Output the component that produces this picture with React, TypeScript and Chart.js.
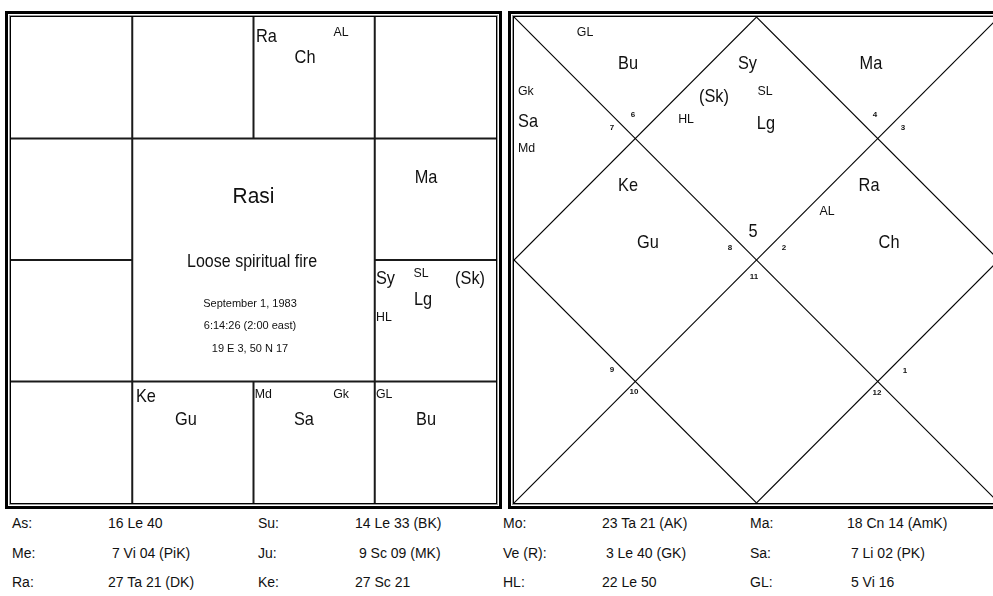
import React, { useEffect, useRef } from "react";
import { Chart, registerables } from "chart.js";

Chart.register(...registerables);

// ---------- DATA ----------
// South-Indian (Rasi) grid segments, chart units 0..4 (y grows downward)
const rasiGridSegments: number[][] = [
  [1, 0, 1, 4],
  [3, 0, 3, 4],
  [0, 1, 4, 1],
  [0, 3, 4, 3],
  [2, 0, 2, 1],
  [2, 3, 2, 4],
  [0, 2, 1, 2],
  [3, 2, 4, 2],
];

// North-Indian diamond chart segments
const bhavaGridSegments: number[][] = [
  [0, 0, 4, 4],
  [4, 0, 0, 4],
  [2, 0, 4, 2],
  [4, 2, 2, 4],
  [2, 4, 0, 2],
  [0, 2, 2, 0],
];

// [text, x, y, style, align]
type Lbl = [string, number, number, string, string];

const rasiLabels: Lbl[] = [
  ["Ra", 2.02, 0.165, "planet", "left"],
  ["AL", 2.722, 0.123, "small", "center"],
  ["Ch", 2.425, 0.337, "planet", "center"],
  ["Ma", 3.423, 1.325, "planet", "center"],
  ["Rasi", 2.0, 1.48, "title", "center"],
  ["Loose spiritual fire", 1.988, 2.016, "subtitle", "center"],
  ["September 1, 1983", 1.971, 2.362, "info", "center"],
  ["6:14:26 (2:00 east)", 1.971, 2.543, "info", "center"],
  ["19 E 3, 50 N 17", 1.971, 2.733, "info", "center"],
  ["Sy", 3.01, 2.156, "planet", "left"],
  ["SL", 3.381, 2.107, "small", "center"],
  ["(Sk)", 3.786, 2.156, "planet", "center"],
  ["Lg", 3.398, 2.329, "planet", "center"],
  ["HL", 3.01, 2.469, "small", "left"],
  ["Ke", 1.03, 3.128, "planet", "left"],
  ["Gu", 1.443, 3.317, "planet", "center"],
  ["Md", 2.01, 3.103, "small", "left"],
  ["Gk", 2.722, 3.103, "small", "center"],
  ["Sa", 2.416, 3.317, "planet", "center"],
  ["GL", 3.01, 3.103, "small", "left"],
  ["Bu", 3.423, 3.317, "planet", "center"],
];

const bhavaLabels: Lbl[] = [
  ["GL", 0.586, 0.123, "small", "center"],
  ["Bu", 0.94, 0.387, "planet", "center"],
  ["Gk", 0.033, 0.609, "small", "left"],
  ["Sa", 0.033, 0.864, "planet", "left"],
  ["Md", 0.033, 1.078, "small", "left"],
  ["(Sk)", 1.649, 0.658, "planet", "center"],
  ["HL", 1.419, 0.84, "small", "center"],
  ["Sy", 1.847, 0.387, "planet", "left"],
  ["SL", 2.07, 0.609, "small", "center"],
  ["Lg", 2.078, 0.881, "planet", "center"],
  ["Ma", 2.944, 0.387, "planet", "center"],
  ["Ke", 0.94, 1.391, "planet", "center"],
  ["Gu", 1.105, 1.86, "planet", "center"],
  ["Ra", 2.928, 1.391, "planet", "center"],
  ["AL", 2.581, 1.597, "small", "center"],
  ["Ch", 3.093, 1.86, "planet", "center"],
  ["5", 1.971, 1.77, "planet", "center"],
  ["6", 0.981, 0.807, "tiny", "center"],
  ["7", 0.808, 0.914, "tiny", "center"],
  ["8", 1.781, 1.901, "tiny", "center"],
  ["9", 0.808, 2.905, "tiny", "center"],
  ["10", 0.99, 3.086, "tiny", "center"],
  ["11", 1.979, 2.14, "tiny", "center"],
  ["12", 2.994, 3.095, "tiny", "center"],
  ["1", 3.225, 2.914, "tiny", "center"],
  ["2", 2.227, 1.901, "tiny", "center"],
  ["3", 3.208, 0.914, "tiny", "center"],
  ["4", 2.977, 0.807, "tiny", "center"],
];

// bottom position table
const tableBodies = ["As", "Su", "Mo", "Ma", "Me", "Ju", "Ve (R)", "Sa", "Ra", "Ke", "HL", "GL"];
const tablePositions = [
  "16 Le 40", "14 Le 33 (BK)", "23 Ta 21 (AK)", "18 Cn 14 (AmK)",
  " 7 Vi 04 (PiK)", " 9 Sc 09 (MK)", " 3 Le 40 (GK)", " 7 Li 02 (PK)",
  "27 Ta 21 (DK)", "27 Sc 21", "22 Le 50", " 5 Vi 16",
];

// ---------- STYLES ----------
const FONT = '"Liberation Sans", Arial, sans-serif';
const TEXT_STYLES: Record<string, { size: number; sx: number; weight: string }> = {
  planet: { size: 19, sx: 0.86, weight: "normal" },
  small: { size: 13, sx: 0.95, weight: "normal" },
  title: { size: 22, sx: 0.95, weight: "normal" },
  subtitle: { size: 18, sx: 0.89, weight: "normal" },
  info: { size: 11, sx: 1, weight: "normal" },
  tiny: { size: 8, sx: 1, weight: "bold" },
};

const tableCols = [12, 108, 258, 355, 503, 602, 750, 847];
const tableRowsY = [523, 553, 582];

function makeTextPlugin(labels: Lbl[]) {
  return {
    id: "chartText",
    afterDatasetsDraw(chart: any) {
      const { ctx, scales } = chart;
      for (const [t, lx, ly, s, a] of labels) {
        const st = TEXT_STYLES[s];
        ctx.save();
        ctx.font = `${st.weight} ${st.size}px ${FONT}`;
        ctx.fillStyle = "#111";
        ctx.textBaseline = "middle";
        ctx.textAlign = a as CanvasTextAlign;
        ctx.translate(scales.x.getPixelForValue(lx), scales.y.getPixelForValue(ly));
        ctx.scale(st.sx, 1);
        ctx.fillText(t, 0, 0);
        ctx.restore();
      }
    },
  };
}

function makeChart(canvas: HTMLCanvasElement, segs: number[][], labels: Lbl[], lw: number, color: string) {
  return new Chart(canvas, {
    type: "scatter",
    data: {
      datasets: segs.map((s) => ({
        data: [
          { x: s[0], y: s[1] },
          { x: s[2], y: s[3] },
        ],
        showLine: true,
        borderColor: color,
        borderWidth: lw,
        pointRadius: 0,
        clip: false as any,
      })),
    },
    options: {
      responsive: false,
      animation: false,
      events: [],
      layout: { padding: 0 },
      plugins: { legend: { display: false }, tooltip: { enabled: false } },
      scales: {
        x: { type: "linear", min: 0, max: 4, display: false },
        y: { type: "linear", min: 0, max: 4, reverse: true, display: false },
      },
    },
    plugins: [makeTextPlugin(labels)],
  });
}

const frameStyle = (left: number): React.CSSProperties => ({
  position: "absolute",
  left,
  top: 11,
  width: 497,
  height: 498,
  boxSizing: "border-box",
  border: "3px solid #000",
  padding: 1,
  background: "#fff",
});
const midStyle: React.CSSProperties = {
  width: "100%",
  height: "100%",
  boxSizing: "border-box",
  border: "1px solid #999",
};
const innerStyle: React.CSSProperties = {
  width: "100%",
  height: "100%",
  boxSizing: "border-box",
  border: "1px solid #000",
};

export default function App() {
  const leftRef = useRef<HTMLCanvasElement>(null);
  const rightRef = useRef<HTMLCanvasElement>(null);

  useEffect(() => {
    const c1 = makeChart(leftRef.current!, rasiGridSegments, rasiLabels, 2, "#1a1a1a");
    const c2 = makeChart(rightRef.current!, bhavaGridSegments, bhavaLabels, 1.1, "#000");
    return () => {
      c1.destroy();
      c2.destroy();
    };
  }, []);

  return (
    <div
      style={{
        position: "fixed",
        left: 0,
        top: 0,
        width: 993,
        height: 596,
        overflow: "hidden",
        background: "#fff",
        fontFamily: FONT,
      }}
    >
      <div style={frameStyle(5)}>
        <div style={midStyle}>
          <div style={innerStyle}>
            <canvas ref={leftRef} width={485} height={486} style={{ display: "block" }} />
          </div>
        </div>
      </div>
      <div style={frameStyle(508)}>
        <div style={midStyle}>
          <div style={innerStyle}>
            <canvas ref={rightRef} width={485} height={486} style={{ display: "block" }} />
          </div>
        </div>
      </div>
      {tableBodies.map((b, i) => {
        const row = Math.floor(i / 4);
        const col = i % 4;
        return (
          <React.Fragment key={b}>
            <div
              style={{
                position: "absolute",
                left: tableCols[col * 2],
                top: tableRowsY[row] - 9,
                fontSize: 14,
                lineHeight: "18px",
                color: "#111",
                whiteSpace: "pre",
              }}
            >
              {b + ":"}
            </div>
            <div
              style={{
                position: "absolute",
                left: tableCols[col * 2 + 1],
                top: tableRowsY[row] - 9,
                fontSize: 14,
                lineHeight: "18px",
                color: "#111",
                whiteSpace: "pre",
              }}
            >
              {tablePositions[i]}
            </div>
          </React.Fragment>
        );
      })}
    </div>
  );
}
